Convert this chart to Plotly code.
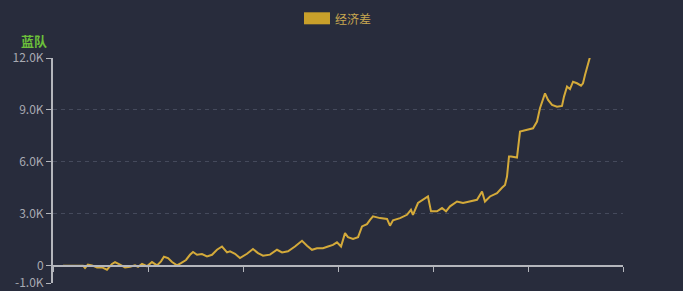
import plotly.graph_objects as go

# Data: game time (minutes) and economy difference (blue team)
minutes = [1.05, 3.16, 3.37, 3.68, 4.11, 4.63, 5.16, 5.68, 6.21, 6.53, 7.05, 7.58, 8.11, 8.63, 8.95,
           9.37, 9.89, 10.42, 10.95, 11.37, 11.68, 12.11, 12.53, 13.05, 13.47, 14.0, 14.42, 14.74,
           15.16, 15.68, 16.21, 16.74, 17.26, 17.79, 18.32, 18.63, 19.16, 19.68, 20.42, 21.05, 21.58,
           22.11, 22.84, 23.58, 24.11, 24.74, 25.47, 26.21, 26.74, 27.26, 27.79, 28.42, 28.95, 29.47,
           29.89, 30.32, 30.74, 31.05, 31.58, 32.11, 32.53, 33.05, 33.37, 33.68, 34.42, 35.16, 35.47,
           35.79, 36.53, 37.26, 37.68, 37.89, 38.42, 38.95, 39.47, 39.79, 40.42, 40.95, 41.37, 41.79,
           42.53, 43.16, 43.89, 44.63, 45.16, 45.47, 46.0, 46.74, 47.26, 47.58, 47.79, 48.0, 48.21,
           48.84, 49.16, 49.89, 50.53, 50.95, 51.26, 51.79, 52.11, 52.53, 53.05, 53.58, 53.79, 54.11,
           54.42, 54.74, 55.16, 55.58, 55.79, 56.0, 56.21, 56.42, 56.53]
gold_diff = [0, 0, -130, 60, 20, -100, -100, -230, 100, 210, 60, -100, -60, 20, -60,
             100, -30, 210, 20, 250, 520, 440, 210, 20, 150, 330, 630, 790,
             630, 670, 540, 630, 920, 1110, 770, 830, 690, 440, 690, 960, 730,
             580, 640, 920, 770, 830, 1110, 1440, 1150, 920, 1010, 1010, 1110, 1200,
             1350, 1110, 1880, 1650, 1540, 1650, 2270, 2400, 2650, 2850, 2750, 2700, 2310,
             2620, 2750, 2940, 3230, 2940, 3620, 3810, 4000, 3140, 3140, 3330, 3140, 3430,
             3710, 3620, 3710, 3810, 4290, 3710, 4000, 4190, 4500, 4670, 5150, 6310, 6310,
             6250, 7750, 7840, 7940, 8330, 9100, 9960, 9580, 9290, 9190, 9230, 9770, 10350,
             10200, 10630, 10540, 10400, 10540, 11020, 11400, 11880, 12070]

series_name = "经济差"
axis_name = "蓝队"
y_tickvals = [-1000, 0, 3000, 6000, 9000, 12000]
y_ticktext = ["-1.0K", "0", "3.0K", "6.0K", "9.0K", "12.0K"]
x_tickvals = [0, 10, 20, 30, 40, 50, 60]

BG = "#282c3c"
GOLD = "#d4aa3a"
AXIS = "#b4b6bc"
FONT = "Noto Sans CJK SC, Noto Sans, sans-serif"

fig = go.Figure()
fig.add_trace(go.Scatter(
    x=minutes, y=gold_diff, mode="lines", name=series_name,
    line=dict(color=GOLD, width=2), showlegend=False,
))

fig.update_layout(
    width=683, height=291,
    margin=dict(l=53, r=60, t=58, b=8, autoexpand=False),
    paper_bgcolor=BG, plot_bgcolor=BG,
    font=dict(family=FONT, size=12, color="#a8aab2"),
    xaxis=dict(
        range=[0, 60], tickvals=x_tickvals, showticklabels=False,
        showgrid=False, zeroline=False, automargin=False,
        showline=True, linecolor=AXIS, linewidth=2,
        ticks="outside", ticklen=5, tickcolor=AXIS, tickwidth=1,
        anchor="free", position=1000 / 13000,
    ),
    yaxis=dict(
        range=[-1000, 12000], tickvals=y_tickvals, ticktext=y_ticktext,
        showgrid=True, gridcolor="#454a5c", griddash="4px,4px", gridwidth=1,
        zeroline=False, automargin=False,
        showline=True, linecolor=AXIS, linewidth=2,
        ticks="outside", ticklen=5, tickcolor=AXIS, tickwidth=1,
        tickfont=dict(size=12, color="#a8aab2"),
    ),
    shapes=[dict(
        type="rect", xref="paper", yref="paper",
        x0=(304 - 53) / 570, x1=(330 - 53) / 570,
        y0=(283 - 24.3) / 225, y1=(283 - 12.3) / 225,
        fillcolor="#c9a02a", line=dict(width=0),
    )],
    annotations=[
        dict(text=series_name, xref="paper", yref="paper",
             x=(333 - 53) / 570, y=(283 - 18.3) / 225,
             xanchor="left", yanchor="middle", showarrow=False,
             font=dict(family=FONT, size=12, color="#c8a850")),
        dict(text="<b>" + axis_name + "</b>", xref="paper", yref="paper",
             x=0, y=1, xanchor="right", yanchor="middle", xshift=-4, yshift=18,
             showarrow=False,
             font=dict(family=FONT, size=13, color="#6cc03a")),
    ],
)

fig.write_html("out.html")
